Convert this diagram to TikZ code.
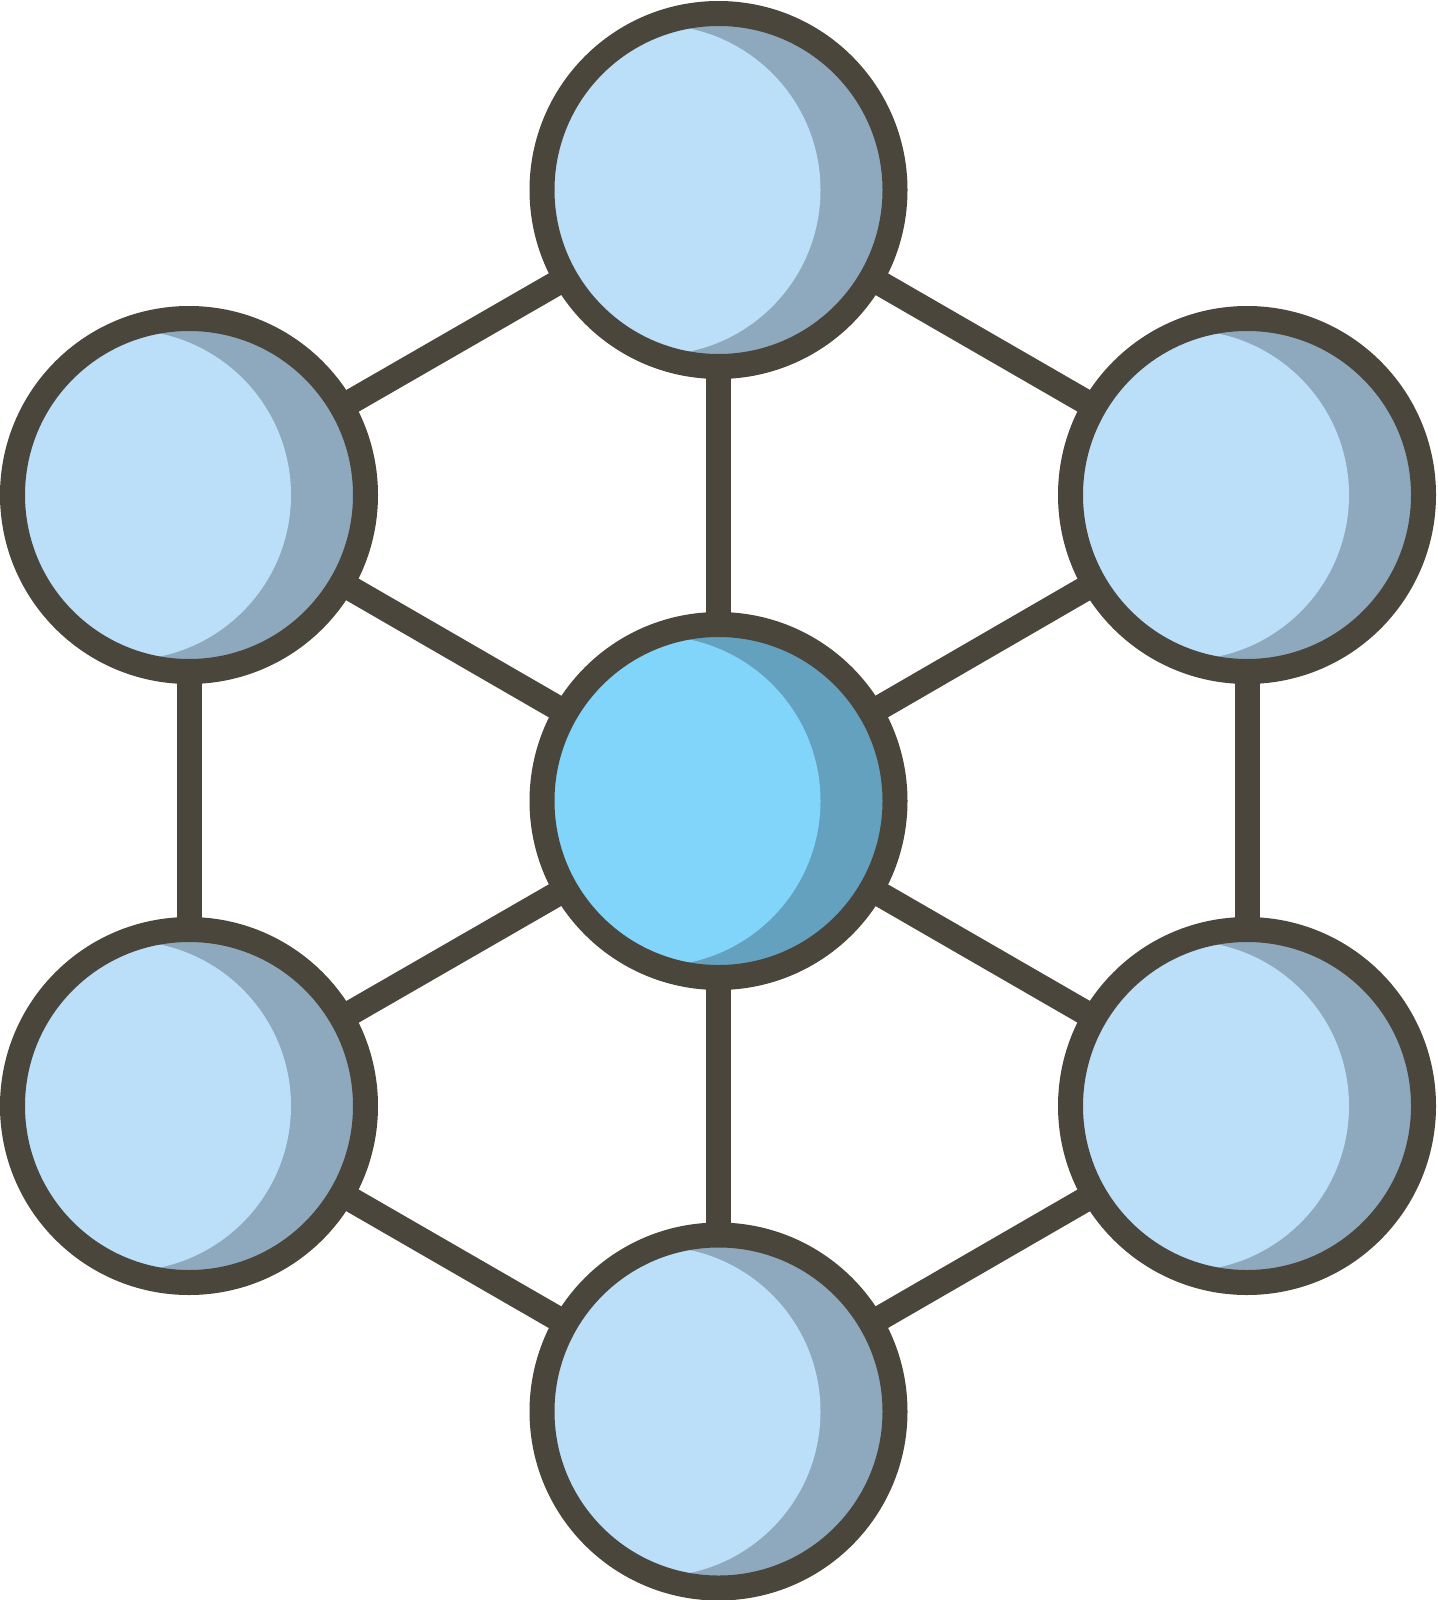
\documentclass[tikz,border=0pt]{standalone}
\begin{document}
\begin{tikzpicture}[x=1pt,y=-1pt]
\definecolor{edgecol}{HTML}{4A463B}
\definecolor{nodelight}{HTML}{BBDEF9}
\definecolor{nodedark}{HTML}{8EA9BD}
\definecolor{hublight}{HTML}{81D4FA}
\definecolor{hubdark}{HTML}{63A1BE}
\tikzset{
  link/.style={draw=edgecol,line width=25pt},
  ring/.style={draw=edgecol,line width=25pt,circle,minimum size=353pt,inner sep=0pt}
}
\useasboundingbox (0,0) rectangle (1437,1600);
\fill[white] (0,0) rectangle (1437,1600);
% positions
\coordinate (C) at (718.5,801);
\coordinate (T) at (718.5,190);
\coordinate (LT) at (189,495);
\coordinate (RT) at (1247,495);
\coordinate (LB) at (189,1106);
\coordinate (RB) at (1247,1106);
\coordinate (B) at (718.5,1411.5);
% connectors
\foreach \a/\b in {T/C,T/LT,T/RT,LT/C,RT/C,LT/LB,RT/RB,LB/C,RB/C,LB/B,RB/B,C/B}
  \draw[link] (\a) -- (\b);
% circles
\foreach \p/\l/\d in {T/nodelight/nodedark,LT/nodelight/nodedark,RT/nodelight/nodedark,LB/nodelight/nodedark,RB/nodelight/nodedark,B/nodelight/nodedark,C/hublight/hubdark}{
  \begin{scope}
    \clip (\p) circle (165);
    \fill[\d] (\p) circle (165);
    \fill[\l] ([xshift=-63pt]\p) circle (165);
  \end{scope}
  \node[ring] (n\p) at (\p) {};
}
\end{tikzpicture}
\end{document}
